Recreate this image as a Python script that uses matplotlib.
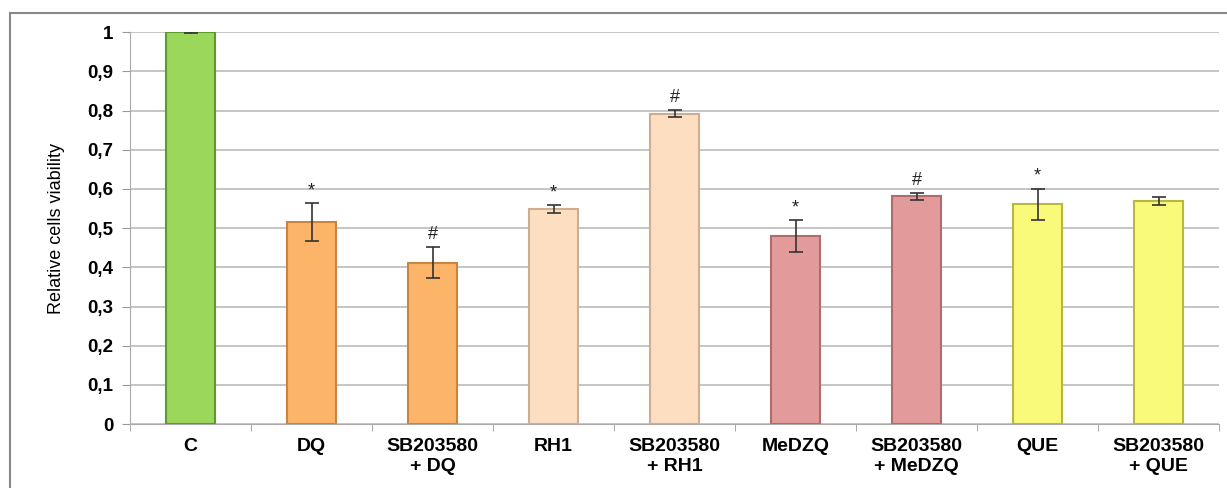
import numpy as np
import matplotlib.pyplot as plt
from matplotlib.lines import Line2D

plt.rcParams['font.family'] = ['Liberation Sans', 'DejaVu Sans']

categories = ['C', 'DQ', 'SB203580\n+ DQ', 'RH1', 'SB203580\n+ RH1', 'MeDZQ',
              'SB203580\n+ MeDZQ', 'QUE', 'SB203580\n+ QUE']
viability = [1.0, 0.515, 0.412, 0.548, 0.792, 0.48, 0.581, 0.561, 0.570]
errors = [0.002, 0.048, 0.04, 0.01, 0.009, 0.04, 0.008, 0.04, 0.01]
marks = ['', '*', '#', '*', '#', '*', '#', '*', '']
face_colors = ['#9AD75A', '#FBB468', '#FBB468', '#FDDEC0', '#FDDEC0',
               '#E39A9A', '#E39A9A', '#F9F97A', '#F9F97A']
edge_colors = ['#5E9A2E', '#C98540', '#C98540', '#CDAE90', '#CDAE90',
               '#B06C6C', '#B06C6C', '#B8B840', '#B8B840']

fig = plt.figure(figsize=(12.27, 4.88), dpi=100)
ax = fig.add_axes([0.106, 0.131, 0.8875, 0.803])

x = np.arange(len(categories))
ax.bar(x, viability, width=0.4, color=face_colors, edgecolor=edge_colors,
       linewidth=1.5, zorder=3)
ax.errorbar(x, viability, yerr=errors, fmt='none', ecolor='#333333',
            elinewidth=1.2, capsize=5, capthick=1.2, zorder=4)

for xi, v, e, m in zip(x, viability, errors, marks):
    if m:
        ax.text(xi, v + e + 0.01, m, ha='center', va='bottom',
                fontsize=13, color='#222222', zorder=5)

ax.set_xlim(-0.5, len(categories) - 0.5)
ax.set_ylim(0, 1)
ax.set_yticks(np.arange(0, 1.01, 0.1))
ax.set_yticklabels(['0'] + ['0,%d' % i for i in range(1, 10)] + ['1'],
                   fontsize=13.5, fontweight='bold')
ax.set_xticks(x)
ax.set_xticklabels(categories, fontsize=14, fontweight='bold')
ax.tick_params(axis='x', length=0, pad=10)
ax.set_xticks(np.arange(-0.5, len(categories)), minor=True)
ax.tick_params(axis='x', which='minor', length=5, color='#999999')
ax.tick_params(axis='y', length=6, color='#999999', pad=6)
ax.yaxis.grid(True, color='#BBBBBB', linewidth=1.2, zorder=0)
ax.set_axisbelow(True)

for s in ['top', 'right']:
    ax.spines[s].set_visible(False)
ax.spines['left'].set_color('#AAAAAA')
ax.spines['bottom'].set_color('#AAAAAA')

ax.set_ylabel('Relative cells viability', fontsize=13, labelpad=16)

fig.add_artist(Line2D([10 / 1227, 10 / 1227], [0, 1 - 13 / 488],
                      transform=fig.transFigure, color='#888888', lw=1.5))
fig.add_artist(Line2D([10 / 1227, 1], [1 - 13 / 488, 1 - 13 / 488],
                      transform=fig.transFigure, color='#888888', lw=1.5))

fig.savefig('out.png', dpi=100)
